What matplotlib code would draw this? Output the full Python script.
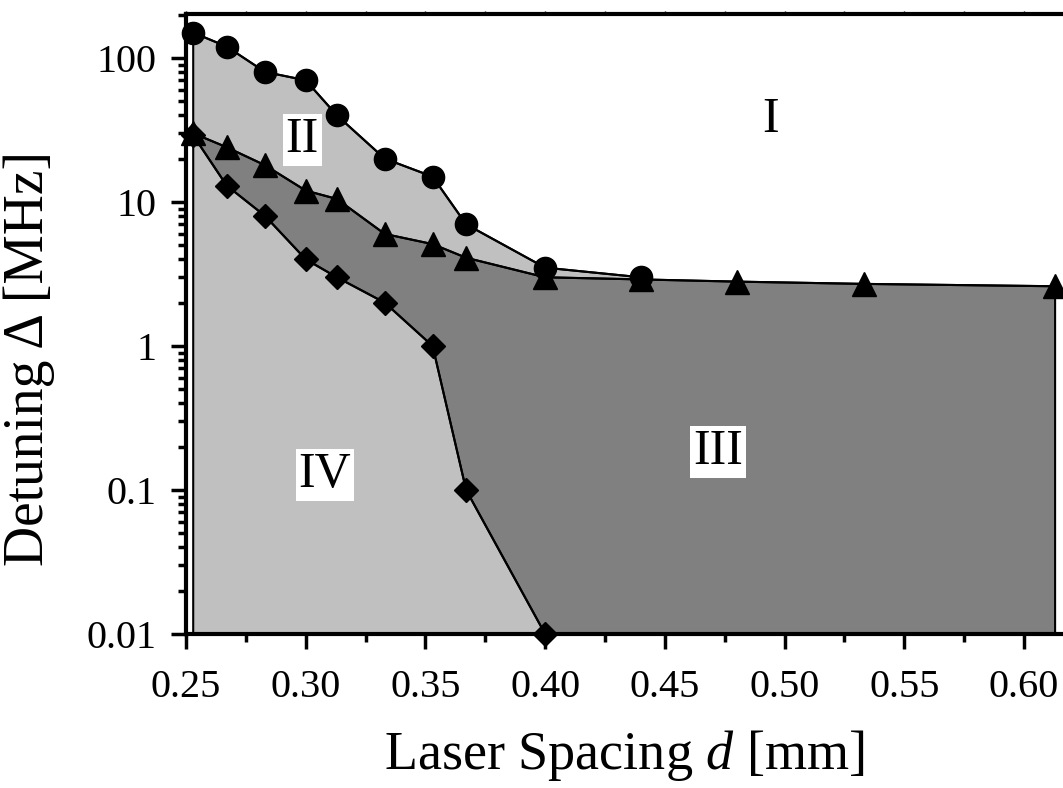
import numpy as np
import matplotlib.pyplot as plt
from matplotlib.ticker import FixedLocator, FuncFormatter, LogLocator, NullFormatter

plt.rcParams['font.family'] = ['Liberation Serif', 'DejaVu Serif']
plt.rcParams['mathtext.fontset'] = 'custom'
plt.rcParams['mathtext.rm'] = 'Liberation Serif'
plt.rcParams['mathtext.it'] = 'Liberation Serif:italic'

# DATA --------------------------------------------------------
d_circ = [0.253, 0.267, 0.283, 0.300, 0.313, 0.333, 0.353, 0.367, 0.400, 0.440]
det_circ = [150, 120, 80, 70, 40, 20, 15, 7, 3.5, 3.0]

d_tri = [0.253, 0.267, 0.283, 0.300, 0.313, 0.333, 0.353, 0.367, 0.400, 0.440,
         0.480, 0.533, 0.613]
det_tri = [30, 24, 18, 12, 10.5, 6, 5.1, 4.1, 3.0, 2.9, 2.8, 2.7, 2.6]

d_dia = [0.253, 0.267, 0.283, 0.300, 0.313, 0.333, 0.353, 0.367, 0.400]
det_dia = [29, 13, 8, 4, 3, 2, 1, 0.1, 0.01]

x_ticks = [0.25, 0.30, 0.35, 0.40, 0.45, 0.50, 0.55, 0.60]
y_ticks = [0.01, 0.1, 1, 10, 100]

regions = ['I', 'II', 'III', 'IV']
region_x = [0.494, 0.2985, 0.4722, 0.308]
region_y = [37, 27, 0.184, 0.127]

light = '#c0c0c0'
dark = '#808080'
ybot = 0.01

fig = plt.figure(figsize=(10.63, 7.88), dpi=100)
ax = fig.add_axes([0.175, 0.1954, 0.825, 0.7868])

# region II + IV: everything under the circle curve
px = d_circ + [d_circ[-1], d_circ[0]]
py = det_circ + [ybot, ybot]
ax.fill(px, py, facecolor=light, edgecolor='black', lw=1.5, zorder=1)

# region III: between triangles and diamonds
px = d_tri + [d_tri[-1], d_dia[-1]] + d_dia[::-1]
py = det_tri + [ybot, ybot] + det_dia[::-1]
ax.fill(px, py, facecolor=dark, edgecolor='black', lw=1.5, zorder=2)

ax.plot(d_circ, det_circ, '-o', color='black', lw=1.5, ms=16, zorder=4, clip_on=False)
ax.plot(d_tri, det_tri, '-^', color='black', lw=1.5, ms=17, zorder=4, clip_on=False)
ax.plot(d_dia, det_dia, '-D', color='black', lw=1.5, ms=12, zorder=5, clip_on=False)

for lab, rx, ry in zip(regions, region_x, region_y):
    bb = None if lab == 'I' else dict(facecolor='white', edgecolor='none', pad=2)
    ax.text(rx, ry, lab, fontsize=36, ha='center', va='center', bbox=bb, zorder=6)

ax.set_yscale('log')
ax.set_xlim(0.25, 0.6163)
ax.set_ylim(0.01, 202)

ax.xaxis.set_major_locator(FixedLocator(x_ticks))
ax.xaxis.set_major_formatter(FuncFormatter(lambda v, p: f'{v:.2f}'))
ax.xaxis.set_minor_locator(FixedLocator(np.arange(0.275, 0.62, 0.05)))
ax.yaxis.set_major_locator(FixedLocator(y_ticks))
ax.yaxis.set_major_formatter(FuncFormatter(lambda v, p: f'{v:g}'))
ax.yaxis.set_minor_locator(LogLocator(base=10, subs=np.arange(2, 10)))
ax.yaxis.set_minor_formatter(NullFormatter())

ax.tick_params(which='major', direction='out', length=11, width=2.5, labelsize=29)
ax.tick_params(axis='x', which='major', pad=14)
ax.tick_params(axis='y', which='major', pad=10)
ax.tick_params(which='minor', direction='out', length=6, width=2.5)
ax.tick_params(axis='x', which='both', top=True, labeltop=False)
# tiny marks on the top frame
for t in ax.xaxis.get_major_ticks() + ax.xaxis.get_minor_ticks():
    t.tick2line.set_markersize(2)
    t.tick2line.set_markeredgewidth(1)
    t.tick2line.set_color('#777777')

for s in ['left', 'bottom', 'top']:
    ax.spines[s].set_linewidth(3)
ax.spines['right'].set_visible(False)

ax.set_xlabel(r'Laser Spacing $d$ [mm]', fontsize=39, labelpad=16)
ax.set_ylabel('Detuning Δ [MHz]', fontsize=40)
ax.yaxis.set_label_coords(-0.149, 0.445)

fig.savefig('out.png', dpi=100)
